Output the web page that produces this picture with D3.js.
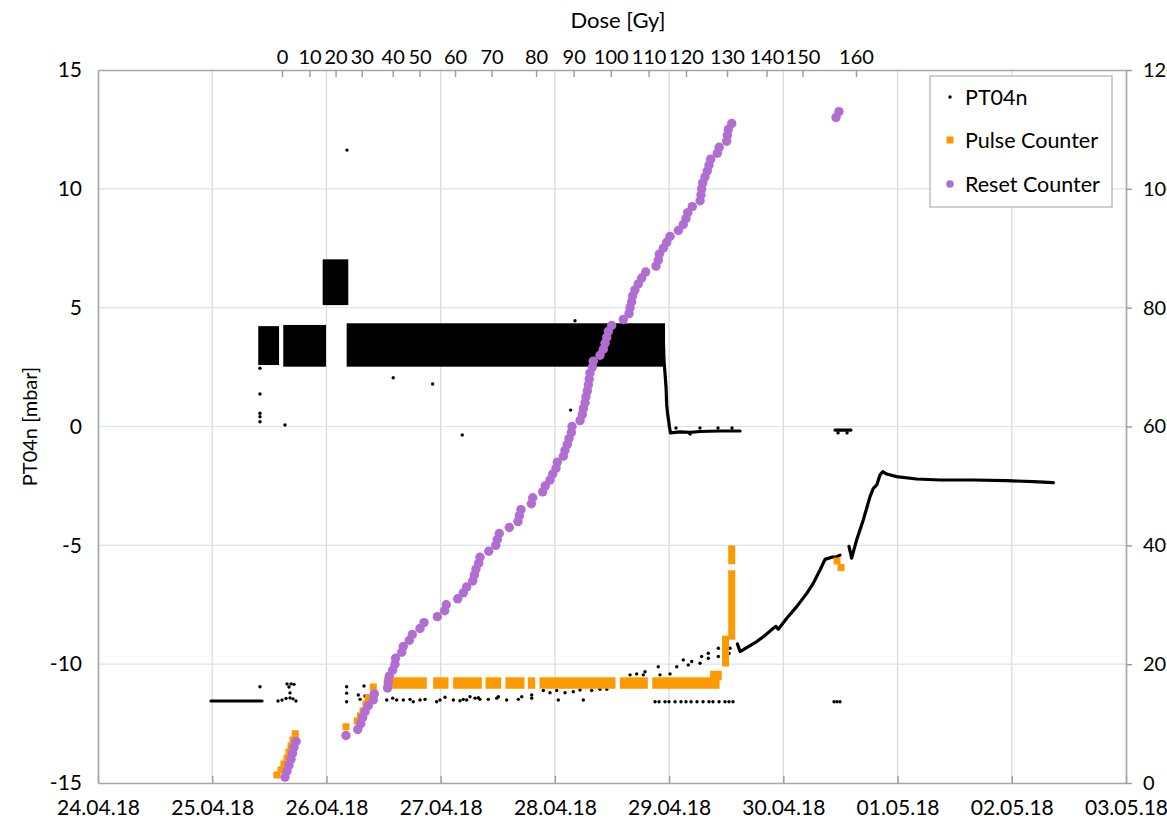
<!DOCTYPE html>
<html>
<head>
<meta charset="utf-8">
<script src="https://cdn.jsdelivr.net/npm/d3@7"></script>
<style>
  html, body { margin: 0; padding: 0; background: #ffffff; }
  svg { display: block; font-family: Lato, "Open Sans", sans-serif; }
</style>
</head>
<body>
<svg id="chart" width="1167" height="823"></svg>
<script>
// ---------------- data ----------------
// time is given in days after 24.04.18 00:00
const dayTicks = [0, 1, 2, 3, 4, 5, 6, 7, 8, 9];
const pressureTicks = [-15, -10, -5, 0, 5, 10, 15];
const counterTicks = [0, 20, 40, 60, 80, 100, 120];

// accumulated dose and the time it was reached
const doseTicks   = [0, 10, 20, 30, 40, 50, 60, 70, 80, 90, 100, 110, 120, 130, 140, 150, 160];
const doseTickDay = [1.611, 1.852, 2.080, 2.309, 2.580, 2.815, 3.126, 3.446, 3.835, 4.164,
                     4.489, 4.820, 5.148, 5.507, 5.853, 6.168, 6.636];

// PT04n: noisy plateaus (start, end, lowest and highest reading in mbar)
const bandStart = [1.416, 1.635, 1.980, 2.190];
const bandEnd   = [1.572, 1.983, 2.178, 4.951];
const bandLow   = [2.65, 2.58, 5.17, 2.58];
const bandHigh  = [4.16, 4.21, 6.97, 4.28];

// PT04n: continuous stretches of readings
const offsetDay   = [0.989, 1.436];
const offsetValue = [-11.55, -11.55];

const dropDay   = [4.951, 4.955, 4.964, 4.973, 4.979, 4.986, 4.995, 5.003, 5.012, 5.095, 5.183, 5.270, 5.446, 5.621];
const dropValue = [3.43, 2.80, 2.25, 1.66, 0.90, 0.57, 0.27, -0.02, -0.27, -0.23, -0.25, -0.21, -0.19, -0.19];

const zeroDay   = [6.452, 6.592];
const zeroValue = [-0.15, -0.15];

const riseDay   = [5.598, 5.621, 5.767, 5.840, 5.912, 5.936, 5.956, 6.030, 6.117, 6.205, 6.262, 6.321, 6.365, 6.424, 6.467, 6.496];
const riseValue = [-9.15, -9.47, -9.05, -8.79, -8.49, -8.41, -8.53, -8.07, -7.58, -7.02, -6.60, -6.04, -5.59, -5.50, -5.48, -5.41];

const recoveryDay   = [6.575, 6.598, 6.642, 6.700, 6.759, 6.788, 6.818, 6.846, 6.870, 6.905, 6.992, 7.167, 7.372, 7.663, 7.956, 8.189, 8.364];
const recoveryValue = [-5.04, -5.54, -4.77, -3.93, -2.95, -2.60, -2.46, -2.04, -1.90, -2.00, -2.11, -2.21, -2.25, -2.25, -2.28, -2.32, -2.36];

// PT04n: isolated readings
const dotDay = [
  2.180, 1.418, 1.418, 1.418, 1.418, 1.418, 1.637, 2.585, 2.930, 3.189, 4.176, 4.138,
  5.060, 5.270, 5.428, 5.551, 5.183, 6.479, 6.558,
  1.418, 1.655, 1.690, 1.716, 1.672, 1.681, 1.576, 1.611, 1.646, 1.681, 1.707, 1.733,
  2.177, 2.177, 2.177, 2.329, 2.279, 2.294, 2.338,
  2.528, 2.580, 2.615, 2.673, 2.732, 2.760, 2.819, 2.863, 2.965, 2.994, 3.038, 3.111,
  3.169, 3.198, 3.228, 3.257, 3.301, 3.330, 3.344, 3.417, 3.491, 3.505, 3.578, 3.680,
  3.710, 3.797, 3.797, 3.899, 3.957, 4.016, 4.030, 4.089, 4.161, 4.220, 4.249, 4.322,
  4.395, 4.454,
  4.658, 4.716, 4.774, 4.789, 4.891, 4.905, 4.920, 5.008, 5.067, 5.124, 5.168, 5.198,
  5.271, 5.285, 5.343, 5.343, 5.431, 5.431, 5.533, 5.525,
  4.877, 4.912, 4.964, 4.999, 5.052, 5.104, 5.148, 5.192, 5.244, 5.297, 5.349, 5.384,
  5.437, 5.489, 5.524, 5.559,
  6.444, 6.470, 6.496
];
const dotValue = [
  11.63, 2.45, 1.37, 0.56, 0.41, 0.20, 0.06, 2.05, 1.79, -0.36, 4.45, 0.69,
  -0.06, -0.06, -0.06, -0.06, -0.32, -0.27, -0.27,
  -10.95, -10.83, -10.83, -10.85, -10.96, -11.21, -11.55, -11.51, -11.44, -11.42, -11.46, -11.55,
  -10.95, -11.22, -11.58, -10.92, -11.30, -11.48, -11.34,
  -11.51, -11.43, -11.51, -11.51, -11.48, -11.58, -11.51, -11.48, -11.58, -11.51, -11.39, -11.51,
  -11.54, -11.48, -11.51, -11.37, -11.43, -11.41, -11.48, -11.48, -11.43, -11.37, -11.51, -11.48,
  -11.37, -11.30, -11.43, -11.11, -11.20, -11.11, -11.51, -11.20, -11.16, -11.09, -11.51, -11.11,
  -11.06, -11.06,
  -10.45, -10.41, -10.45, -10.32, -10.74, -10.11, -10.45, -10.41, -10.11, -9.82, -10.03, -9.89,
  -9.96, -9.68, -9.54, -9.75, -9.33, -9.68, -9.33, -9.55,
  -11.58, -11.58, -11.58, -11.58, -11.58, -11.58, -11.58, -11.58, -11.58, -11.58, -11.58, -11.58,
  -11.58, -11.58, -11.58, -11.58,
  -11.58, -11.58, -11.58
];

// Pulse Counter: single readings
const pulseDay   = [1.567, 1.602, 1.628, 1.655, 1.672, 1.690, 1.707, 1.727,
                    2.171, 2.270, 2.298, 2.320, 2.346, 2.366, 2.410,
                    6.470, 6.505];
const pulseValue = [1.35, 2.19, 3.20, 4.21, 5.22, 6.23, 7.24, 8.30,
                    9.47, 10.43, 11.28, 12.12, 13.30, 14.39, 16.16,
                    37.36, 36.27];
// Pulse Counter: stretches of closely spaced readings (start, end, low, high)
const pulseRunStart = [2.533, 2.965, 3.140, 3.423, 3.598, 3.794, 3.896, 4.599, 4.883, 5.390, 5.494, 5.548, 5.548];
const pulseRunEnd   = [2.848, 3.038, 3.330, 3.499, 3.703, 3.797, 4.500, 4.783, 5.411, 5.430, 5.494, 5.548, 5.548];
const pulseRunLow   = [16.45, 16.45, 16.45, 16.45, 16.45, 16.45, 16.45, 16.45, 16.45, 17.9, 20.2, 24.7, 37.4];
const pulseRunHigh  = [17.2, 17.2, 17.2, 17.2, 17.2, 17.2, 17.2, 17.2, 17.2, 18.3, 24.2, 35.2, 39.4];

// Reset Counter
const resetDay = [
  1.637, 1.655, 1.672, 1.690, 1.703, 1.716, 1.734, 2.171, 2.274, 2.300,
  2.317, 2.338, 2.366, 2.410, 2.419, 2.535, 2.542, 2.550, 2.580, 2.600,
  2.605, 2.659, 2.673, 2.725, 2.752, 2.819, 2.854, 2.971, 3.035, 3.049,
  3.149, 3.198, 3.228, 3.280, 3.295, 3.309, 3.333, 3.344, 3.421, 3.482,
  3.496, 3.513, 3.601, 3.677, 3.689, 3.703, 3.794, 3.806, 3.893, 3.916,
  3.957, 3.981, 4.010, 4.021, 4.074, 4.088, 4.109, 4.124, 4.144, 4.150,
  4.220, 4.240, 4.249, 4.264, 4.272, 4.284, 4.293, 4.301, 4.307, 4.328,
  4.336, 4.395, 4.424, 4.439, 4.454, 4.468, 4.497, 4.599, 4.649, 4.658,
  4.672, 4.681, 4.701, 4.730, 4.760, 4.795, 4.885, 4.905, 4.914, 4.949,
  4.979, 5.008, 5.081, 5.124, 5.148, 5.163, 5.203, 5.271, 5.279, 5.285,
  5.294, 5.314, 5.334, 5.349, 5.364, 5.422, 5.439, 5.504, 5.510, 5.518,
  5.548, 6.461, 6.487
];
const resetCount = [
  1, 2, 3, 4, 5, 6, 7, 8, 9, 10,
  11, 12, 13, 14, 15, 16, 17, 18, 19, 20,
  21, 22, 23, 24, 25, 26, 27, 28, 29, 30,
  31, 32, 33, 34, 35, 36, 37, 38, 39, 40,
  41, 42, 43, 44, 45, 46, 47, 48, 49, 50,
  51, 52, 53, 54, 55, 56, 57, 58, 59, 60,
  61, 62, 63, 64, 65, 66, 67, 68, 69, 70,
  71, 72, 73, 74, 75, 76, 77, 78, 79, 80,
  81, 82, 83, 84, 85, 86, 87, 88, 89, 90,
  91, 92, 93, 94, 95, 96, 97, 98, 99, 100,
  101, 102, 103, 104, 105, 106, 107, 108, 109, 110,
  111, 112, 113
];

const seriesNames = ["PT04n", "Pulse Counter", "Reset Counter"];

// ---------------- drawing ----------------
const COLORS = { pt: "#000000", pulse: "#ff9900", reset: "#b26dd2",
                 axis: "#a6a6a6", gridV: "#d9d9d9", gridH: "#d6e5f3", text: "#000000" };
const box = { left: 98, right: 1126, top: 70, bottom: 783 };

const svg = d3.select("#chart");
const t0 = new Date(2018, 3, 24);
const toDate = d => new Date(t0.getTime() + d * 864e5);

const x = d3.scaleTime().domain([toDate(0), toDate(9)]).range([box.left, box.right]);
const yP = d3.scaleLinear().domain([-15, 15]).range([box.bottom, box.top]);
const yC = d3.scaleLinear().domain([0, 120]).range([box.bottom, box.top]);

const fmtDay = d3.timeFormat("%d.%m.%y");

// grid
svg.append("g").selectAll("line")
  .data(dayTicks.slice(1, -1)).join("line")
  .attr("x1", d => x(toDate(d))).attr("x2", d => x(toDate(d)))
  .attr("y1", box.top).attr("y2", box.bottom)
  .attr("stroke", COLORS.gridV).attr("stroke-width", 1.2);

svg.append("g").selectAll("line")
  .data(pressureTicks.slice(1, -1)).join("line")
  .attr("x1", box.left).attr("x2", box.right)
  .attr("y1", d => yP(d)).attr("y2", d => yP(d))
  .attr("stroke", COLORS.gridH).attr("stroke-width", 1.2);

// axes
const bottomAxis = d3.axisBottom(x)
  .tickValues(dayTicks.map(toDate)).tickFormat(fmtDay)
  .tickSizeInner(-7).tickSizeOuter(0).tickPadding(17);
const gB = svg.append("g").attr("transform", `translate(0,${box.bottom})`).call(bottomAxis);

const leftAxis = d3.axisLeft(yP).tickValues(pressureTicks).tickSize(0).tickPadding(16)
  .tickFormat(d => d3.format("d")(d).replace("−", "-"));
const gL = svg.append("g").attr("transform", `translate(${box.left},0)`).call(leftAxis);

const rightAxis = d3.axisRight(yC).tickValues(counterTicks).tickSizeInner(6).tickSizeOuter(0).tickPadding(11);
const gR = svg.append("g").attr("transform", `translate(${box.right},0)`).call(rightAxis);

const topAxis = d3.axisTop(x)
  .tickValues(doseTickDay.map(toDate))
  .tickFormat((d, i) => doseTicks[i])
  .tickSizeInner(-7).tickSizeOuter(0).tickPadding(6);
const gT = svg.append("g").attr("transform", `translate(0,${box.top})`).call(topAxis);

[gB, gL, gR, gT].forEach(g => {
  g.select(".domain").attr("stroke", COLORS.axis).attr("stroke-width", 1.6);
  g.selectAll(".tick line").attr("stroke", "#9a9a9a").attr("stroke-width", 1.4);
  g.selectAll(".tick text").attr("fill", COLORS.text).style("font-size", "21px")
   .style("font-family", "Lato, 'Open Sans', sans-serif");
});
gR.selectAll(".tick text").attr("text-anchor", "start").style("font-size", "20px");
gT.selectAll(".tick text").style("font-size", "20px");
gB.selectAll(".tick text").attr("dy", "0.71em");

// titles
svg.append("text").attr("x", 618).attr("y", 28).attr("text-anchor", "middle")
  .style("font-size", "22px").attr("fill", COLORS.text).text("Dose [Gy]");
svg.append("text").attr("transform", `translate(37,${(box.top + box.bottom) / 2}) rotate(-90)`)
  .attr("text-anchor", "middle").style("font-size", "20px").attr("fill", COLORS.text)
  .text("PT04n [mbar]");

// plot area content
const plot = svg.append("g");

// PT04n noisy plateaus
const bands = bandStart.map((s, i) => ({ s, e: bandEnd[i], lo: bandLow[i], hi: bandHigh[i] }));
plot.append("g").selectAll("rect").data(bands).join("rect")
  .attr("x", d => x(toDate(d.s)) - 1.5)
  .attr("width", d => x(toDate(d.e)) - x(toDate(d.s)) + 3)
  .attr("y", d => yP(d.hi) - 1.5)
  .attr("height", d => yP(d.lo) - yP(d.hi) + 3)
  .attr("fill", COLORS.pt);

// PT04n continuous stretches
const traceLine = d3.line().x(d => x(toDate(d[0]))).y(d => yP(d[1]));
const traces = [
  [offsetDay, offsetValue], [dropDay, dropValue], [zeroDay, zeroValue],
  [riseDay, riseValue], [recoveryDay, recoveryValue]
].map(([ds, vs]) => ds.map((d, i) => [d, vs[i]]));
plot.append("g").selectAll("path").data(traces).join("path")
  .attr("d", traceLine).attr("fill", "none").attr("stroke", COLORS.pt)
  .attr("stroke-width", 3.2).attr("stroke-linejoin", "round").attr("stroke-linecap", "round");

// PT04n isolated readings
plot.append("g").selectAll("circle").data(dotDay.map((d, i) => [d, dotValue[i]])).join("circle")
  .attr("cx", d => x(toDate(d[0]))).attr("cy", d => yP(d[1])).attr("r", 1.7)
  .attr("fill", COLORS.pt);

// Pulse Counter
const SQ = 7;
const runs = pulseRunStart.map((s, i) => ({ s, e: pulseRunEnd[i], lo: pulseRunLow[i], hi: pulseRunHigh[i] }));
plot.append("g").selectAll("rect").data(runs).join("rect")
  .attr("x", d => x(toDate(d.s)) - SQ / 2)
  .attr("width", d => x(toDate(d.e)) - x(toDate(d.s)) + SQ)
  .attr("y", d => yC(d.hi) - SQ / 2)
  .attr("height", d => yC(d.lo) - yC(d.hi) + SQ)
  .attr("fill", COLORS.pulse);
plot.append("g").selectAll("rect").data(pulseDay.map((d, i) => [d, pulseValue[i]])).join("rect")
  .attr("x", d => x(toDate(d[0])) - SQ / 2).attr("y", d => yC(d[1]) - SQ / 2)
  .attr("width", SQ).attr("height", SQ).attr("fill", COLORS.pulse);

// Reset Counter
plot.append("g").selectAll("circle").data(resetDay.map((d, i) => [d, resetCount[i]])).join("circle")
  .attr("cx", d => x(toDate(d[0]))).attr("cy", d => yC(d[1])).attr("r", 4.7)
  .attr("fill", COLORS.reset);

// legend
const lg = svg.append("g").attr("transform", "translate(930,76)");
lg.append("rect").attr("width", 182).attr("height", 131).attr("fill", "#fff")
  .attr("stroke", "#b5b5b5").attr("stroke-width", 1.3);
const rowY = [21, 64, 108];
lg.append("circle").attr("cx", 20).attr("cy", rowY[0]).attr("r", 1.7).attr("fill", COLORS.pt);
lg.append("rect").attr("x", 16.5).attr("y", rowY[1] - 3.5).attr("width", 7).attr("height", 7).attr("fill", COLORS.pulse);
lg.append("circle").attr("cx", 20).attr("cy", rowY[2]).attr("r", 3.8).attr("fill", COLORS.reset);
lg.selectAll("text.lab").data(seriesNames).join("text").attr("class", "lab")
  .attr("x", 35).attr("y", (d, i) => rowY[i]).attr("dy", "0.36em")
  .style("font-size", "21.5px").attr("fill", COLORS.text).text(d => d);
</script>
</body>
</html>
